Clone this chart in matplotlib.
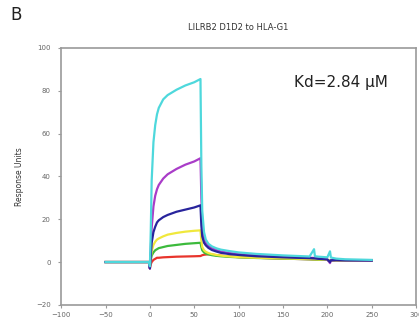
import matplotlib
matplotlib.use("Agg")
import matplotlib.pyplot as plt
import numpy as np

# time points (s)
t = [-50, -1, 0, 1, 2, 4, 6, 8, 10, 15, 20, 30, 40, 50, 57, 58, 59, 61, 63, 66, 70, 75, 80, 90, 100, 120, 150, 180, 185, 186, 190, 200, 203, 204, 210, 220, 250]

red = [0, 0, -3, -1, 0, 1, 1.5, 2, 2, 2.2, 2.3, 2.5, 2.6, 2.7, 2.8, 3, 3.2, 3.4, 3.5, 3.6, 3.5, 3.2, 3, 2.6, 2.3, 2, 1.6, 1.3, 1.2, 1.2, 1.1, 1, 0.5, 0.8, 0.8, 0.7, 0.6]
green = [0, 0, -2, 1, 3, 4.5, 5.5, 6, 6.5, 7, 7.5, 8, 8.5, 8.8, 9, 7, 5.5, 4.5, 4, 3.6, 3.2, 2.9, 2.7, 2.4, 2.2, 1.9, 1.6, 1.3, 1.2, 1.2, 1.1, 1, 0.5, 0.8, 0.8, 0.7, 0.6]
yellow = [0, 0, -2, 2, 5, 8, 9.5, 10.5, 11, 12, 12.8, 13.6, 14.2, 14.6, 14.8, 10, 7, 5.5, 4.8, 4.2, 3.7, 3.3, 3, 2.6, 2.3, 2, 1.7, 1.4, 1.3, 1.3, 1.2, 1, 0.5, 0.8, 0.8, 0.7, 0.6]
blue = [0, 0, -3, 3, 9, 14, 16.5, 18.5, 19.5, 21, 22, 23.5, 24.5, 25.5, 26.5, 17, 12, 9, 7.8, 6.6, 5.6, 4.9, 4.3, 3.7, 3.3, 2.7, 2.2, 1.8, 1.7, 1.7, 1.5, 1.2, 0, 0.8, 0.9, 0.8, 0.7]
magenta = [0, 0, -3, 6, 16, 26, 31, 34, 36, 39, 41, 43.5, 45.5, 47, 48.5, 30, 18, 11.5, 9, 7.6, 6.5, 5.6, 4.9, 4.2, 3.7, 3.1, 2.5, 2, 1.9, 1.9, 1.7, 1.3, -0.5, 0.8, 0.9, 0.8, 0.7]
cyan = [0, 0, -2, 15, 38, 56, 64, 69, 72, 76, 78, 80.5, 82.5, 84, 85.5, 45, 24, 14, 10.5, 8.5, 7.3, 6.4, 5.8, 5.1, 4.5, 3.8, 3.1, 2.6, 6, 2.7, 2.5, 2.2, 5, 2.1, 1.6, 1.3, 1]

series = [
    (red, "#e8342c"),
    (green, "#3cba3c"),
    (yellow, "#f0e83c"),
    (magenta, "#a93cc8"),
    (blue, "#28249c"),
    (cyan, "#4ed8dc"),
]

fig = plt.figure(figsize=(4.19, 3.31), dpi=100)
ax = fig.add_axes([0.146, 0.079, 0.847, 0.776])
for y, c in series:
    ax.plot(t, y, color=c, lw=1.6, solid_joinstyle="round")

ax.set_xlim(-100, 300)
ax.set_ylim(-20, 100)
ax.set_xticks(range(-100, 301, 50))
ax.set_yticks(range(-20, 101, 20))
for s in ax.spines.values():
    s.set_color("#9a9a9a")
    s.set_linewidth(1.2)
ax.tick_params(axis="both", colors="#9a9a9a", labelcolor="#666666", labelsize=5, length=2.5, width=0.8)
ax.tick_params(axis="y", pad=5)
ax.tick_params(axis="x", pad=3)
ax.set_ylabel("Response Units", fontsize=5.5, color="#333333", labelpad=9)
ax.set_title("LILRB2 D1D2 to HLA-G1", fontsize=6, color="#333333", pad=13)
ax.text(0.92, 0.865, "Kd=2.84 μM", transform=ax.transAxes, ha="right", va="center", fontsize=11, color="#222222")
fig.text(0.024, 0.955, "B", fontsize=12, color="#222222", ha="left", va="center")

fig.savefig("out.png", dpi=100)
